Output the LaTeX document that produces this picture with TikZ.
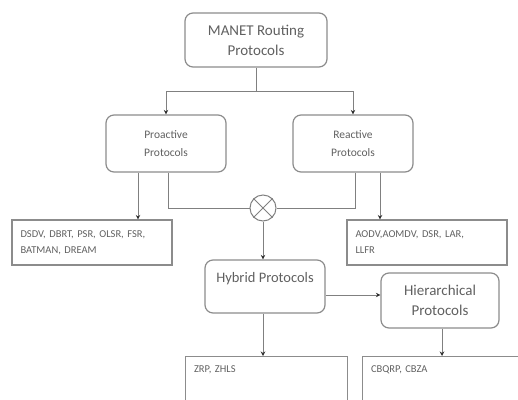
\documentclass[tikz,border=0pt]{standalone}
\usepackage{fontspec}
\setmainfont{Carlito}
\usetikzlibrary{arrows.meta}
\definecolor{linegray}{HTML}{808080}
\definecolor{boxgray}{HTML}{8C8C8C}
\definecolor{tipgray}{HTML}{303030}
\definecolor{txtgray}{HTML}{606060}
\begin{document}
\begin{tikzpicture}[x=1pt,y=-1pt,
  line/.style={draw=linegray, line width=1pt},
  arr/.style={line, -{Stealth[length=4.5pt,width=4.5pt,color=tipgray]}},
  rbox/.style={draw=boxgray, line width=1.2pt, rounded corners=8pt,
    align=center, text=txtgray, inner sep=0pt},
  lbox/.style={draw=boxgray, line width=1.1pt, align=left, text=txtgray,
    inner xsep=8.5pt, font=\fontsize{10.5}{16}\selectfont},
  toplist/.style={lbox, anchor=north west, inner ysep=8pt, text height=8pt, text depth=70pt}
]
\useasboundingbox (0,0) rectangle (518,399);

% protocol classes
\node[rbox, minimum width=142, minimum height=54,
  font=\fontsize{15}{20}\selectfont] (manet) at (256,40) {MANET Routing\\Protocols};
\node[rbox, minimum width=120, minimum height=57,
  font=\fontsize{11.5}{18}\selectfont] (pro) at (166,143.5) {Proactive\\Protocols};
\node[rbox, minimum width=120, minimum height=57,
  font=\fontsize{11.5}{18}\selectfont] (rea) at (353,143.5) {Reactive\\Protocols};
\node[rbox, minimum width=120, minimum height=53,
  font=\fontsize{14.5}{19}\selectfont] (hyb) at (265,286.5) {Hybrid Protocols\\\mbox{}};
\node[rbox, minimum width=118, minimum height=55,
  font=\fontsize{15}{20}\selectfont] (hier) at (440,300.5) {Hierarchical\\Protocols};

% combining junction
\node[draw=linegray, line width=1pt, circle, minimum size=26pt, inner sep=0pt] (mix) at (263,208) {};
\draw[line] (mix.45) -- (mix.225) (mix.135) -- (mix.315);

% protocol lists
\node[lbox, minimum width=160, minimum height=45, text width=143] (dsdv) at (92,242.5)
  {DSDV, DBRT, PSR, OLSR, FSR,\\BATMAN, DREAM};
\node[lbox, minimum width=160, minimum height=45, text width=143] (aodv) at (427,242.5)
  {AODV,AOMDV, DSR, LAR,\\LLFR};
\node[toplist, text width=145] (zrp) at (185,356) {ZRP, ZHLS};
\node[toplist, text width=153] (cbq) at (362,356) {CBQRP, CBZA};

% connectors
\coordinate (split) at (256,91);
\draw[line] (manet.south) -- (split);
\draw[arr] (split) -| (pro.north);
\draw[arr] (split) -| (rea.north);
\draw[arr] ([xshift=-28pt]pro.south) -- ([xshift=-28pt]pro.south |- dsdv.north);
\draw[line] ([xshift=2pt]pro.south) |- (mix.west);
\draw[line] ([xshift=2pt]rea.south) |- (mix.east);
\draw[arr] ([xshift=27pt]rea.south) -- ([xshift=27pt]rea.south |- aodv.north);
\draw[arr] (mix.south) -- (mix.south |- hyb.north);
\draw[arr] ([yshift=-8.5pt]hyb.east) -- ([yshift=-8.5pt]hyb.east -| hier.west);
\draw[arr] (mix.south |- hyb.south) -- (mix.south |- zrp.north);
\draw[arr] ([xshift=2pt]hier.south) -- ([xshift=2pt]hier.south |- cbq.north);
\end{tikzpicture}
\end{document}
